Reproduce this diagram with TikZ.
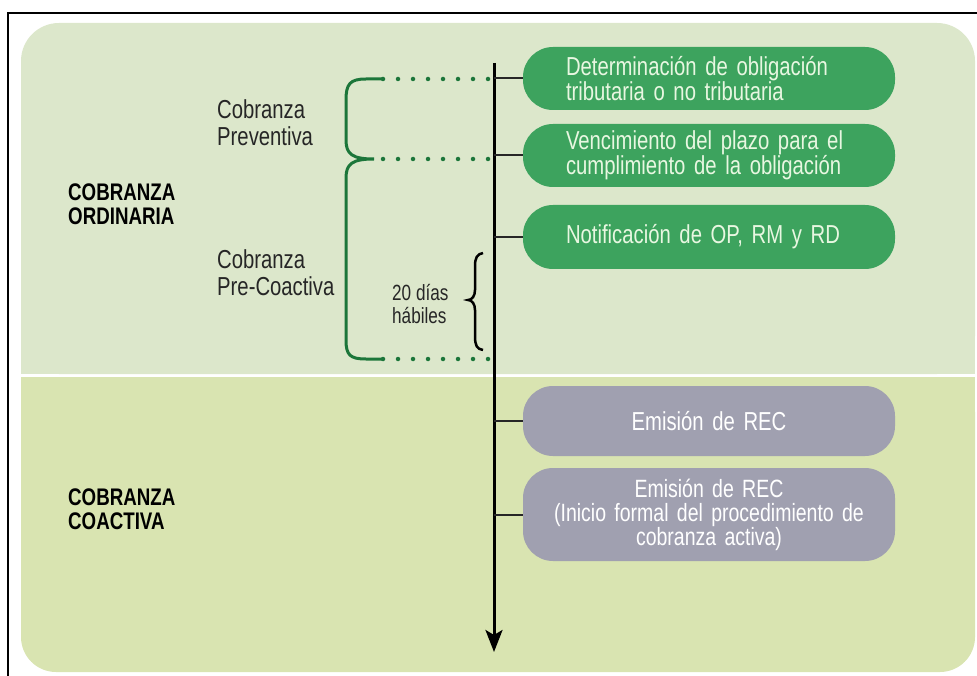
\documentclass[tikz,border=0pt]{standalone}
\usepackage{fontspec}
\setmainfont{Liberation Sans}[FakeStretch=0.78]
\usetikzlibrary{arrows.meta}

\definecolor{upperbg}{RGB}{220,231,203}
\definecolor{lowerbg}{RGB}{217,228,177}
\definecolor{boxgreen}{RGB}{61,163,94}
\definecolor{boxtext}{RGB}{232,247,225}
\definecolor{boxgray}{RGB}{160,160,176}
\definecolor{bracegreen}{RGB}{28,118,58}

\tikzset{
  box/.style={rounded corners=30pt, minimum width=372pt, font=\fontsize{26}{21}\selectfont},
  greenbox/.style={box, fill=boxgreen, text=boxtext, minimum height=63pt,
    inner xsep=43pt, text width=286pt, align=left},
  graybox/.style={box, fill=boxgray, text=white, inner xsep=16pt, text width=340pt, align=center},
  tick/.style={draw=black!85, line width=2pt},
  lbl/.style={anchor=north west, inner sep=0pt, align=left, text=black!85,
    font=\fontsize{26}{27}\selectfont},
  head/.style={lbl, text=black, font=\bfseries\fontsize{24}{24}\selectfont},
  dots/.style={draw=bracegreen, line width=4.5pt, line cap=round, dash pattern=on 0pt off 15pt},
  brace/.style={draw=bracegreen, line width=3pt}
}

\begin{document}
\begin{tikzpicture}[x=1pt,y=-1pt]
  \useasboundingbox (0,0) rectangle (977,676);

  % panels
  \fill[upperbg, rounded corners=38pt] (21,23) rectangle (975,374);
  \fill[upperbg] (21,320) rectangle (975,374);
  \fill[lowerbg, rounded corners=35pt] (21,377) rectangle (975,672);
  \fill[lowerbg] (21,377) rectangle (975,430);
  \draw[line width=2pt] (977,13) -- (8,13) -- (8,676);

  % time line
  \coordinate (top) at (494,63);
  \coordinate (bottom) at (494,652);
  \draw[line width=3pt, -{Stealth[length=22pt,width=17pt,inset=5pt]}] (top) -- (bottom);

  \node[greenbox] (det) at (709,78.5) {Determinación de obligación\\tributaria o no tributaria};
  \node[greenbox] (venc) at (709,155.5) {Vencimiento del plazo para el\\cumplimiento de la obligación};
  \node[greenbox, minimum height=64pt] (notif) at (709,237) {Notificación de OP, RM y RD};
  \node[graybox, minimum height=70pt] (rec) at (709,421) {Emisión de REC};
  \node[graybox, minimum height=93pt, font=\fontsize{25}{24}\selectfont] (recini) at (709,514.5)
    {Emisión de REC\\(Inicio formal del procedimiento de\\cobranza activa)};

  \foreach \n in {det,venc,notif,rec,recini}
    \draw[tick] (top |- \n.west) -- (\n.west);

  % phases
  \coordinate (p1) at (383,79);
  \coordinate (p2) at (383,159);
  \coordinate (p3) at (383,359);
  \foreach \p in {p1,p2,p3}
    \draw[dots] (\p) -- ++(105.5,0);

  \draw[brace] (p1) -- (366,79) .. controls (350,79) and (346,84) .. (346,100)
    -- (346,140) .. controls (346,154) and (352,159) .. (374,159)
    .. controls (352,159) and (346,164) .. (346,178)
    -- (346,340) .. controls (346,355) and (350,359) .. (366,359) -- (p3);
  \draw[line width=2.5pt] (483,253) .. controls (477,254) and (475,258) .. (475,266)
    -- (475,290) .. controls (475,296) and (472,300) .. (468,300)
    .. controls (472,300) and (475,304) .. (475,310)
    -- (475,336) .. controls (475,346) and (477,349) .. (483,350);

  \node[lbl] (prev) at (217,99) {Cobranza\\Preventiva};
  \node[lbl] (precoac) at (217,249) {Cobranza\\Pre-Coactiva};
  \node[lbl, font=\fontsize{22}{23}\selectfont] (dias) at (392,284) {20 días\\hábiles};
  \node[head] (ordin) at (68,184) {COBRANZA\\ORDINARIA};
  \node[head] (coac) at (68,489) {COBRANZA\\COACTIVA};
\end{tikzpicture}
\end{document}
